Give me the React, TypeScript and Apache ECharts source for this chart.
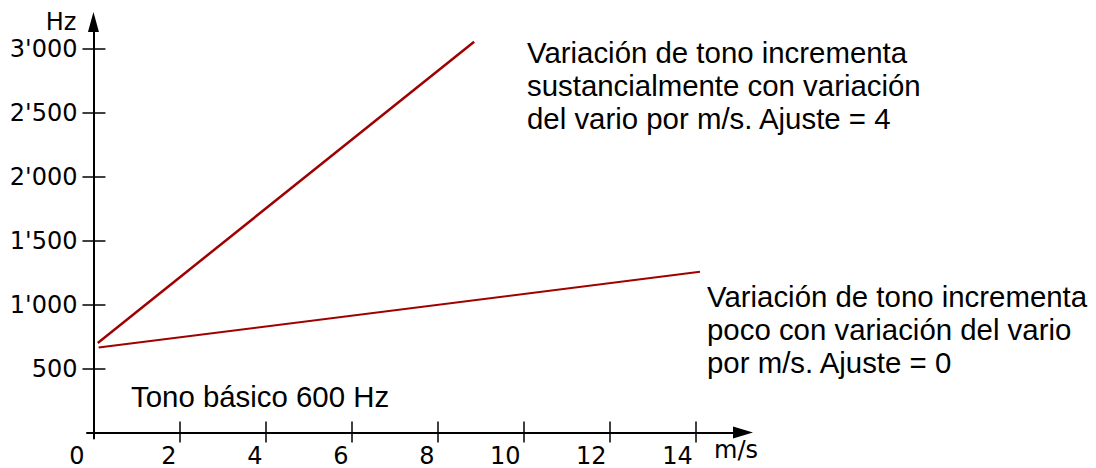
import React, { useEffect, useRef } from "react";
import * as echarts from "echarts";

// ---- data ----
const xTickValues = [2, 4, 6, 8, 10, 12, 14];
const xLabelValues = [0, 2, 4, 6, 8, 10, 12, 14];
const yTickValues = [500, 1000, 1500, 2000, 2500, 3000];
const yTickLabels = ["500", "1'000", "1'500", "2'000", "2'500", "3'000"];
const xAxisName = "m/s";
const yAxisName = "Hz";

// series: [m/s, Hz]
const steepLine = [
  [0.1, 700],
  [8.85, 3055],
];
const gentleLine = [
  [0.12, 665],
  [14.1, 1257],
];

const noteSteep = [
  "Variación de tono incrementa",
  "sustancialmente con variación",
  "del vario por m/s. Ajuste = 4",
];
const noteGentle = [
  "Variación de tono incrementa",
  "poco con variación del vario",
  "por m/s. Ajuste = 0",
];
const noteBase = "Tono básico 600 Hz";

const TICK_FONT = "DejaVu Sans";
const NOTE_FONT = "Liberation Sans";

export default function App() {
  const ref = useRef<HTMLDivElement>(null);

  useEffect(() => {
    if (!ref.current) return;
    const chart = echarts.init(ref.current, undefined, { renderer: "svg" });

    const xMin = -0.15;
    const xMax = 15.1;
    const yMin = -47;
    const yMax = 3210;

    const axisColor = "#000";
    const lineColor = "#a00000";

    const noteStyle = {
      fontFamily: NOTE_FONT,
      fontSize: 29.4,
      lineHeight: 33,
      fill: "#000",
      align: "left",
      verticalAlign: "top",
    };

    chart.setOption({
      animation: false,
      backgroundColor: "#fff",
      grid: { left: 87, top: 22, width: 656, height: 419, containLabel: false },
      xAxis: [
        {
          type: "value",
          position: "bottom",
          min: xMin,
          max: xMax,
          splitLine: { show: false },
          axisLine: {
            show: true,
            onZero: true,
            onZeroAxisIndex: 0,
            symbol: ["none", "triangle"],
            symbolSize: [12, 20],
            lineStyle: { color: axisColor, width: 2 },
          },
          axisTick: {
            show: true,
            inside: false,
            length: 10,
            customValues: xTickValues,
            lineStyle: { color: axisColor, width: 1.5 },
          },
          axisLabel: {
            show: true,
            customValues: xLabelValues,
            margin: 7.5,
            align: "right",
            padding: [0, 3, 0, 0],
            color: "#000",
            fontFamily: TICK_FONT,
            fontSize: 24,
            lineHeight: 20,
            formatter: (v: number) => (v === 0 ? "{z|0}" : String(v)),
            rich: {
              z: {
                fontFamily: TICK_FONT,
                fontSize: 24,
                lineHeight: 20,
                color: "#000",
                padding: [0, 6, 0, 0],
              },
            },
          },
          name: xAxisName,
          nameLocation: "end",
          nameGap: 15,
          nameTextStyle: {
            fontFamily: TICK_FONT,
            fontSize: 24,
            lineHeight: 20,
            color: "#000",
            align: "right",
            verticalAlign: "top",
            padding: [8, 0, 0, 0],
          },
        },
        {
          type: "value",
          position: "top",
          min: xMin,
          max: xMax,
          splitLine: { show: false },
          axisLine: { show: false, onZero: true, onZeroAxisIndex: 0 },
          axisTick: {
            show: true,
            inside: false,
            length: 11,
            customValues: xTickValues,
            lineStyle: { color: axisColor, width: 1.5 },
          },
          axisLabel: { show: false },
        },
      ],
      yAxis: [
        {
          type: "value",
          position: "left",
          min: yMin,
          max: yMax,
          splitLine: { show: false },
          axisLine: {
            show: true,
            onZero: true,
            onZeroAxisIndex: 0,
            symbol: ["none", "triangle"],
            symbolSize: [11, 20],
            lineStyle: { color: axisColor, width: 2 },
          },
          axisTick: {
            show: true,
            inside: false,
            length: 11,
            customValues: yTickValues,
            lineStyle: { color: axisColor, width: 1.5 },
          },
          axisLabel: {
            show: true,
            customValues: yTickValues,
            margin: 9.5,
            padding: [4, 0, 0, 0],
            color: "#000",
            fontFamily: TICK_FONT,
            fontSize: 24,
            formatter: (v: number) => {
              const i = yTickValues.indexOf(v);
              return i >= 0 ? yTickLabels[i] : "";
            },
          },
          name: yAxisName,
          nameLocation: "end",
          nameGap: 0,
          nameTextStyle: {
            fontFamily: TICK_FONT,
            fontSize: 24,
            color: "#000",
            align: "right",
            verticalAlign: "middle",
            padding: [0, 17, 0, 0],
          },
        },
        {
          type: "value",
          position: "right",
          min: yMin,
          max: yMax,
          splitLine: { show: false },
          axisLine: { show: false, onZero: true, onZeroAxisIndex: 0 },
          axisTick: {
            show: true,
            inside: false,
            length: 12,
            customValues: yTickValues,
            lineStyle: { color: axisColor, width: 1.5 },
          },
          axisLabel: { show: false },
        },
      ],
      series: [
        {
          type: "line",
          name: "Ajuste 4",
          xAxisIndex: 0,
          yAxisIndex: 0,
          data: steepLine,
          symbol: "none",
          lineStyle: { color: lineColor, width: 2.5 },
          z: 3,
        },
        {
          type: "line",
          name: "Ajuste 0",
          xAxisIndex: 0,
          yAxisIndex: 0,
          data: gentleLine,
          symbol: "none",
          lineStyle: { color: lineColor, width: 2 },
          z: 3,
        },
      ],
      graphic: [
        { type: "text", x: 527, y: 36, style: { ...noteStyle, text: noteSteep.join("\n") } },
        { type: "text", x: 707, y: 280, style: { ...noteStyle, text: noteGentle.join("\n") } },
        { type: "text", x: 131, y: 380, style: { ...noteStyle, text: noteBase } },
      ],
    });

    return () => chart.dispose();
  }, []);

  return (
    <div
      ref={ref}
      style={{ position: "fixed", left: 0, top: 0, width: 1096, height: 468 }}
    />
  );
}
